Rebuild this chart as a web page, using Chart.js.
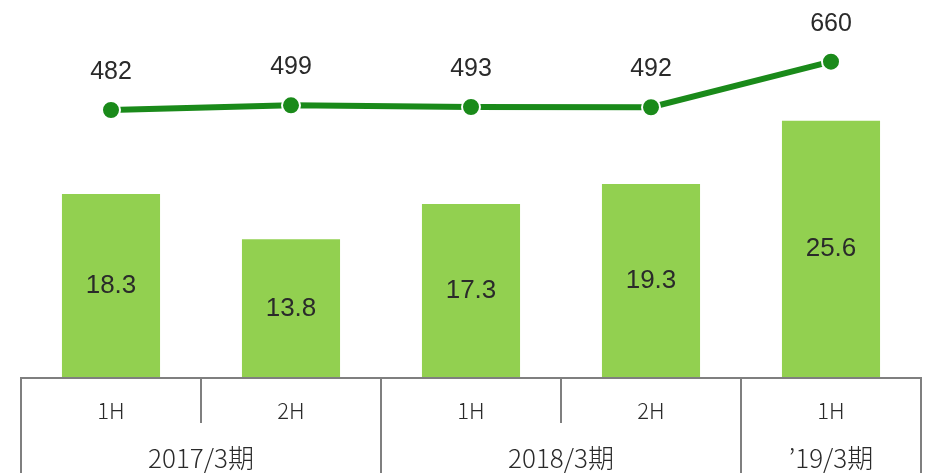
<!DOCTYPE html>
<html>
<head>
<meta charset="utf-8">
<script src="https://cdn.jsdelivr.net/npm/chart.js@4"></script>
<style>
html,body{margin:0;padding:0;background:#fff;}
#wrap{width:926px;height:473px;}
</style>
</head>
<body>
<div id="wrap"><canvas id="myChart" width="926" height="473"></canvas></div>
<script>
// half-year periods
var halfLabels=["1H","2H","1H","2H","1H"];
var yearLabels=["2017/3期","2018/3期","’19/3期"];
var yearSpans=[2,2,1];
// bar series (green bars)
var barValues=[18.3,13.8,17.3,19.3,25.6];
// line series
var lineValues=[482,499,493,492,660];

var barColor="#92d050";
var lineColor="#1a8a1a";
var gridColor="#7f7f7f";
var textColor="#2a2a2a";

var labelPlugin={
  id:"labelPlugin",
  afterDatasetsDraw:function(chart){
    var ctx=chart.ctx;
    ctx.save();
    ctx.fillStyle=textColor;
    ctx.textAlign="center";
    ctx.textBaseline="middle";
    // bar labels
    ctx.font="26px 'Liberation Sans', Arial, sans-serif";
    chart.getDatasetMeta(0).data.forEach(function(bar,i){
      var mid=(bar.y+bar.base)/2;
      ctx.fillText(barValues[i].toFixed(1),bar.x,mid);
    });
    // line labels
    ctx.font="25px 'Liberation Sans Narrow', 'Liberation Sans', sans-serif";
    chart.getDatasetMeta(1).data.forEach(function(pt,i){
      ctx.fillText(String(lineValues[i]),pt.x,pt.y-38);
    });
    ctx.restore();
  },
  afterDraw:function(chart){
    var ctx=chart.ctx;
    var x=chart.scales.x;
    var area=chart.chartArea;
    var top=area.bottom;
    var bottom=chart.height+2;
    var half=(x.getPixelForValue(1)-x.getPixelForValue(0))/2;
    var left=x.getPixelForValue(0)-half;
    var right=x.getPixelForValue(halfLabels.length-1)+half;
    ctx.save();
    ctx.strokeStyle=gridColor;
    ctx.lineWidth=2;
    ctx.beginPath();
    ctx.moveTo(left,bottom);ctx.lineTo(left,top);ctx.lineTo(right,top);ctx.lineTo(right,bottom);
    ctx.stroke();
    // separators
    var idx=0;
    ctx.fillStyle=textColor;
    ctx.textAlign="center";
    ctx.textBaseline="middle";
    ctx.font="300 26px 'Noto Sans CJK JP', sans-serif";
    yearSpans.forEach(function(span,g){
      var gStart=x.getPixelForValue(idx)-half;
      var gEnd=x.getPixelForValue(idx+span-1)+half;
      for(var k=1;k<span;k++){
        var sx=x.getPixelForValue(idx+k)-half;
        ctx.beginPath();ctx.moveTo(sx,top);ctx.lineTo(sx,top+45);ctx.stroke();
      }
      if(g<yearSpans.length-1){
        ctx.beginPath();ctx.moveTo(gEnd,top);ctx.lineTo(gEnd,bottom);ctx.stroke();
      }
      ctx.fillText(yearLabels[g],(gStart+gEnd)/2,top+80);
      idx+=span;
    });
    ctx.font="300 22px 'Noto Sans CJK JP', sans-serif";
    halfLabels.forEach(function(l,i){
      ctx.fillText(l,x.getPixelForValue(i),top+33);
    });
    ctx.restore();
  }
};

new Chart("myChart",{
  type:"bar",
  data:{
    labels:halfLabels,
    datasets:[{
      type:"bar",
      data:barValues,
      backgroundColor:barColor,
      yAxisID:"y",
      categoryPercentage:1,
      barPercentage:0.545,
      order:2
    },{
      type:"line",
      data:lineValues,
      borderColor:lineColor,
      backgroundColor:lineColor,
      borderWidth:6,
      pointRadius:9,
      pointBorderColor:"#ffffff",
      pointBorderWidth:2,
      pointBackgroundColor:lineColor,
      yAxisID:"y2",
      tension:0,
      order:1
    }]
  },
  options:{
    responsive:false,
    animation:false,
    layout:{autoPadding:false,padding:{left:21,right:5,top:0,bottom:95}},
    plugins:{legend:{display:false},tooltip:{enabled:false}},
    scales:{
      x:{display:false},
      y:{display:false,min:0,max:37.6},
      y2:{display:false,min:-505,max:887}
    }
  },
  plugins:[labelPlugin]
});
</script>
</body>
</html>
